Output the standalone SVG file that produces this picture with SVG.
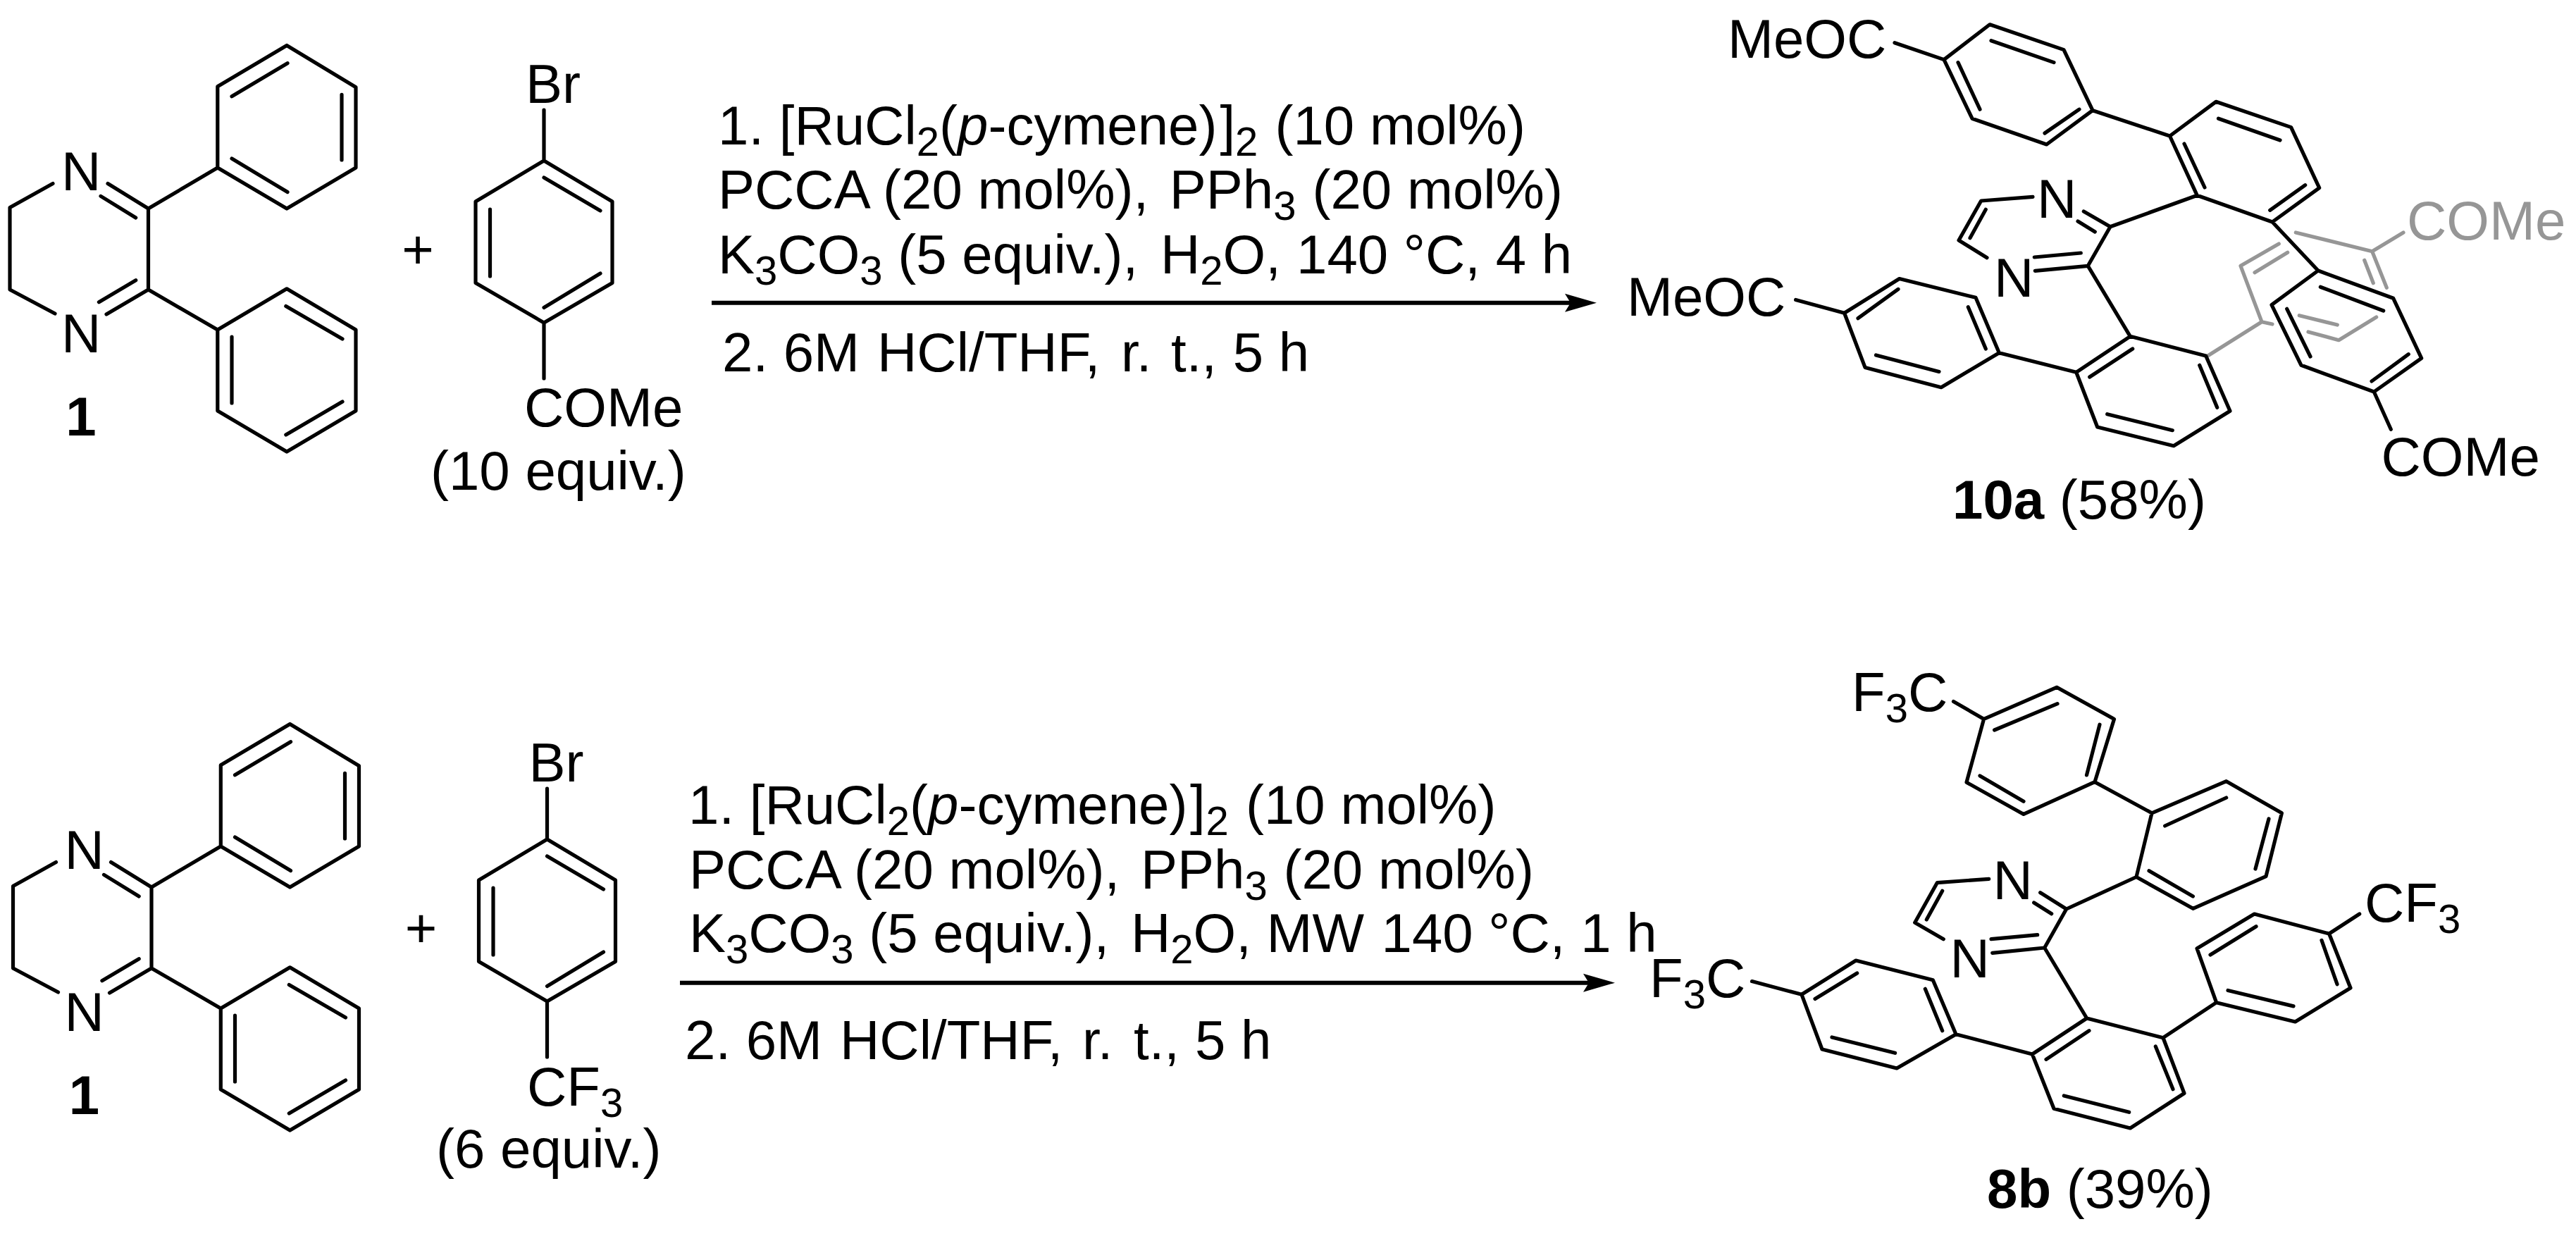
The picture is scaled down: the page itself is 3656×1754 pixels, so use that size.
<svg xmlns="http://www.w3.org/2000/svg" width="3656" height="1754" viewBox="0 0 3656 1754">
<defs>
<style>
.b{fill:none;stroke:#000;stroke-width:5.2;stroke-linecap:round;stroke-linejoin:round}
.g{fill:none;stroke:#969696;stroke-width:5.2;stroke-linecap:round;stroke-linejoin:round}
.a{fill:none;stroke:#000;stroke-width:6}
text{font-family:"Liberation Sans",Arial,sans-serif;font-size:78px;fill:#000}
.s{font-size:58px}
.bd{font-weight:bold}
.gt{fill:#969696}
.i{font-style:italic}
</style>
<marker id="arrow" markerUnits="userSpaceOnUse" markerWidth="46" markerHeight="28" refX="13" refY="14" orient="auto"><path d="M0,1L45,14L0,27L8,14Z" fill="#000"/></marker>
</defs>
<rect width="3656" height="1754" fill="#fff"/>
<g id="connectors">
<path id="arrow1" class="a" d="M1010,429.7H2234" marker-end="url(#arrow)"/>
<path id="arrow2" class="a" d="M965,1394.7H2260" marker-end="url(#arrow)"/>
</g>
<g id="node-1a">
<path class="b" d="M75,260.5L14,294.5V411L78,445M153,260.5L210.5,296V411L151,446M143,278.4L192.7,309M140.4,428.7L192.7,397.7M210.5,296L308.8,238V122.7L407,64.5L505,123.7V238L407,296L308.8,238M329,136.8L408,89.7M485,134.3V227M329,225L408,272.6M210.5,411L308.8,468L407,409.8L505,468V583L407,641L308.8,583V468M405.8,434.6L486,481M329,478V572M405.8,617L486,570"/>
<text x="87" y="270">N</text><text x="87" y="499.6">N</text>
<text class="bd" x="115" y="618" text-anchor="middle">1</text>
</g>
<g id="plus-a"><text x="593" y="381" text-anchor="middle">+</text></g>
<g id="node-aryl-a">
<path class="b" d="M772,156V228L869,286V401.6L772,458L675,401.6V286L772,228M772,252L852,299M695.5,297V392M772,436.5L852,388M772,458V537"/>
<text x="746" y="145.5">Br</text><text x="744" y="605">COMe</text><text x="611" y="694.5">(10 equiv.)</text>
</g>
<g id="conditions-a">
<text x="1019" y="204.5">1. [RuCl<tspan class="s" dy="16">2</tspan><tspan dy="-16">(</tspan><tspan class="i">p</tspan>-cymene)<tspan x="1731.5">]</tspan><tspan class="s" dy="16" x="1753">2</tspan><tspan dy="-16" x="1809.5">(10 mol%)</tspan></text>
<text x="1019" y="296.4">PCCA (20 mol%), <tspan x="1659.7">PPh</tspan><tspan class="s" dy="16">3</tspan><tspan dy="-16" x="1862.5">(20 mol%)</tspan></text>
<text x="1019" y="388.2">K<tspan class="s" dy="16">3</tspan><tspan dy="-16">CO</tspan><tspan class="s" dy="16">3</tspan><tspan dy="-16"> (5 equiv.), </tspan><tspan x="1647">H</tspan><tspan class="s" dy="16">2</tspan><tspan dy="-16">O, </tspan><tspan x="1840">140 °C, 4 h</tspan></text>
<text x="1025" y="526.5">2. 6M <tspan x="1245">HCl/THF,</tspan> <tspan x="1591">r.</tspan> <tspan x="1662">t.,</tspan> <tspan x="1749.7">5 h</tspan></text>
</g>
<g id="node-10a">
<path class="g" d="M3131.7,506L3210,456.7L3180,377.3L3234.3,346M3200,386.7L3246.7,358.3M3258.3,330L3366.7,356.7L3387.3,408.3M3355.7,369.3L3368.3,401.7M3366.7,356.7L3411,330M3210,456.7L3225,460M3276,471L3319.3,482.7L3372.7,450M3263.3,447.7L3317.3,461"/>
<path class="b" d="M2689,60.7L2759,84.6L2824,34.8L2929,70.6L2970,156.7L2904.6,205L2799,168.2L2759,84.6M2826,57.7L2915,88.6M2779,88.6L2810,155.2M2902,189L2951,155.2M2970,156.7L3079.5,193L3145,144.3L3251.6,180.6L3291.7,266.7L3225,315L3118.3,277.3L3079.5,193M3148.5,168.2L3236,199M3100,204L3129,266M3221.7,298.3L3271.7,262.7M3118.3,277.3L2995,321.7L2963.3,377.3M2957.3,300L2995,321.7M2949,314L2973.3,329M2963.3,377.3L2888.3,384.3M2953.3,359L2887.3,365M2885,279.3L2811.7,285L2780,341L2820,365.7M2818.3,297.3L2796,337.7M2963.3,377.3L3023.3,477.3L3130.7,505L3165,583.3L3085,632.7L2976.7,606L2946.7,528.3L3023.3,477.3M3121.7,518.3L3146.7,578.3M3083.3,610.7L2990.7,587.7M2965.7,535L3026.7,495M2946.7,528.3L2837.3,500.7L2804,422.3L2695.7,395.5L2617.6,444.3L2647,521.4L2755,549.7L2837.3,500.7M2793.3,435.7L2818.3,495M2694,410.4L2637,451.7M2662.5,504L2752,527.4M2617.6,444.3L2548.6,425.4M3225,315L3290,384L3396.7,423.3L3436.7,508.3L3369.3,556L3266,518.3L3224,432.7L3290,384M3293.3,407.3L3382.7,441M3245.7,438.3L3279,506M3366,541L3418.3,502.7M3369.3,556L3393.3,609.3"/>
<text x="2452" y="82">MeOC</text><text x="2309" y="447.8">MeOC</text><text x="2891" y="309.3">N</text><text x="2830" y="420.7">N</text>
<text x="3379.5" y="675">COMe</text><text class="gt" x="3416" y="340">COMe</text>
<text x="2771" y="736"><tspan class="bd">10a</tspan> (58%)</text>
</g>
<g id="node-1b" transform="translate(4.5,963)">
<path class="b" d="M75,260.5L14,294.5V411L78,445M153,260.5L210.5,296V411L151,446M143,278.4L192.7,309M140.4,428.7L192.7,397.7M210.5,296L308.8,238V122.7L407,64.5L505,123.7V238L407,296L308.8,238M329,136.8L408,89.7M485,134.3V227M329,225L408,272.6M210.5,411L308.8,468L407,409.8L505,468V583L407,641L308.8,583V468M405.8,434.6L486,481M329,478V572M405.8,617L486,570"/>
<text x="87" y="270">N</text><text x="87" y="499.6">N</text>
<text class="bd" x="115" y="618" text-anchor="middle">1</text>
</g>
<g id="plus-b"><text x="597.5" y="1344" text-anchor="middle">+</text></g>
<g id="node-aryl-b">
<path class="b" transform="translate(4.5,963)" d="M772,156V228L869,286V401.6L772,458L675,401.6V286L772,228M772,252L852,299M695.5,297V392M772,436.5L852,388M772,458V537"/>
<text x="750.5" y="1109">Br</text><text x="748" y="1568.5">CF<tspan class="s" dy="16">3</tspan></text><text x="619" y="1656.6">(6 equiv.)</text>
</g>
<g id="conditions-b">
<text x="977" y="1169">1. [RuCl<tspan class="s" dy="16">2</tspan><tspan dy="-16">(</tspan><tspan class="i">p</tspan>-cymene)<tspan x="1689">]</tspan><tspan class="s" dy="16" x="1711.5">2</tspan><tspan dy="-16" x="1768">(10 mol%)</tspan></text>
<text x="978" y="1260.5">PCCA (20 mol%), <tspan x="1619">PPh</tspan><tspan class="s" dy="16">3</tspan><tspan dy="-16" x="1821.5">(20 mol%)</tspan></text>
<text x="978" y="1350.6">K<tspan class="s" dy="16">3</tspan><tspan dy="-16">CO</tspan><tspan class="s" dy="16">3</tspan><tspan dy="-16"> (5 equiv.), </tspan><tspan x="1605">H</tspan><tspan class="s" dy="16">2</tspan><tspan dy="-16">O, MW </tspan><tspan x="1960.5">140 °C, 1 h</tspan></text>
<text x="972" y="1503">2. 6M <tspan x="1192">HCl/THF,</tspan> <tspan x="1536">r.</tspan> <tspan x="1609">t.,</tspan> <tspan x="1696">5 h</tspan></text>
</g>
<g id="node-8b">
<path class="b" d="M2772.5,995.5L2815.6,1020.4L2919,975.3L3000.5,1020.4L2973,1109.7L2872,1155.4L2791,1110.2L2815.6,1020.4M2830.6,1036L2920,998.6M2980,1028.2L2961.5,1099.9M2872,1137.2L2810,1100.9M2973,1109.7L3054,1153.8L3159.7,1108.7L3238.4,1153.8L3216,1243.6L3112.4,1289.3L3032,1244.5L3054,1153.8M3072.6,1172L3159.7,1132M3220,1162L3201,1233M3112.4,1272L3050,1235.8M3032,1244.5L2932.7,1290L2901.7,1345M2895.7,1266.7L2932.7,1290M2886.7,1281L2911.7,1296.7M2901.7,1345L2827.7,1352.3M2891.7,1326.7L2826,1332.7M2822.7,1247.3L2749.3,1252.7L2717.7,1309.3L2758.3,1332.7M2756.7,1264.3L2734.3,1305M2901.7,1345L2961.7,1445L3070,1472.7L3100,1551.5L3023.3,1601L2915,1573.3L2884.3,1496L2961.7,1445M3059.3,1485L3084,1545.7M3021.7,1578.3L2929.3,1555M2904,1503.3L2965,1462.7M2884.3,1496L2776,1467.7L2743.3,1390.7L2634,1363L2557,1411.3L2586,1489L2692,1516L2776,1467.7M2732.3,1403.3L2756.7,1462.7M2635.7,1381L2576,1417.5M2600,1472L2689.6,1494.3M2557,1411.3L2486.5,1392.6M3070,1472.7L3145.6,1422.7L3118,1345.9L3199.5,1297L3305.6,1325L3336,1402L3257.5,1450L3145.6,1422.7M3137,1355L3202,1314.7M3295,1334.4L3317,1396.7M3162,1405.5L3255,1427.9M3305.6,1325L3348.7,1297"/>
<text x="2628" y="1008.5">F<tspan class="s" dy="16">3</tspan><tspan dy="-16">C</tspan></text>
<text x="2341" y="1415">F<tspan class="s" dy="16">3</tspan><tspan dy="-16">C</tspan></text>
<text x="3356" y="1307.5">CF<tspan class="s" dy="16">3</tspan></text>
<text x="2828.5" y="1276">N</text><text x="2767.5" y="1387.3">N</text>
<text x="2820" y="1714"><tspan class="bd">8b</tspan> (39%)</text>
</g>
</svg>
